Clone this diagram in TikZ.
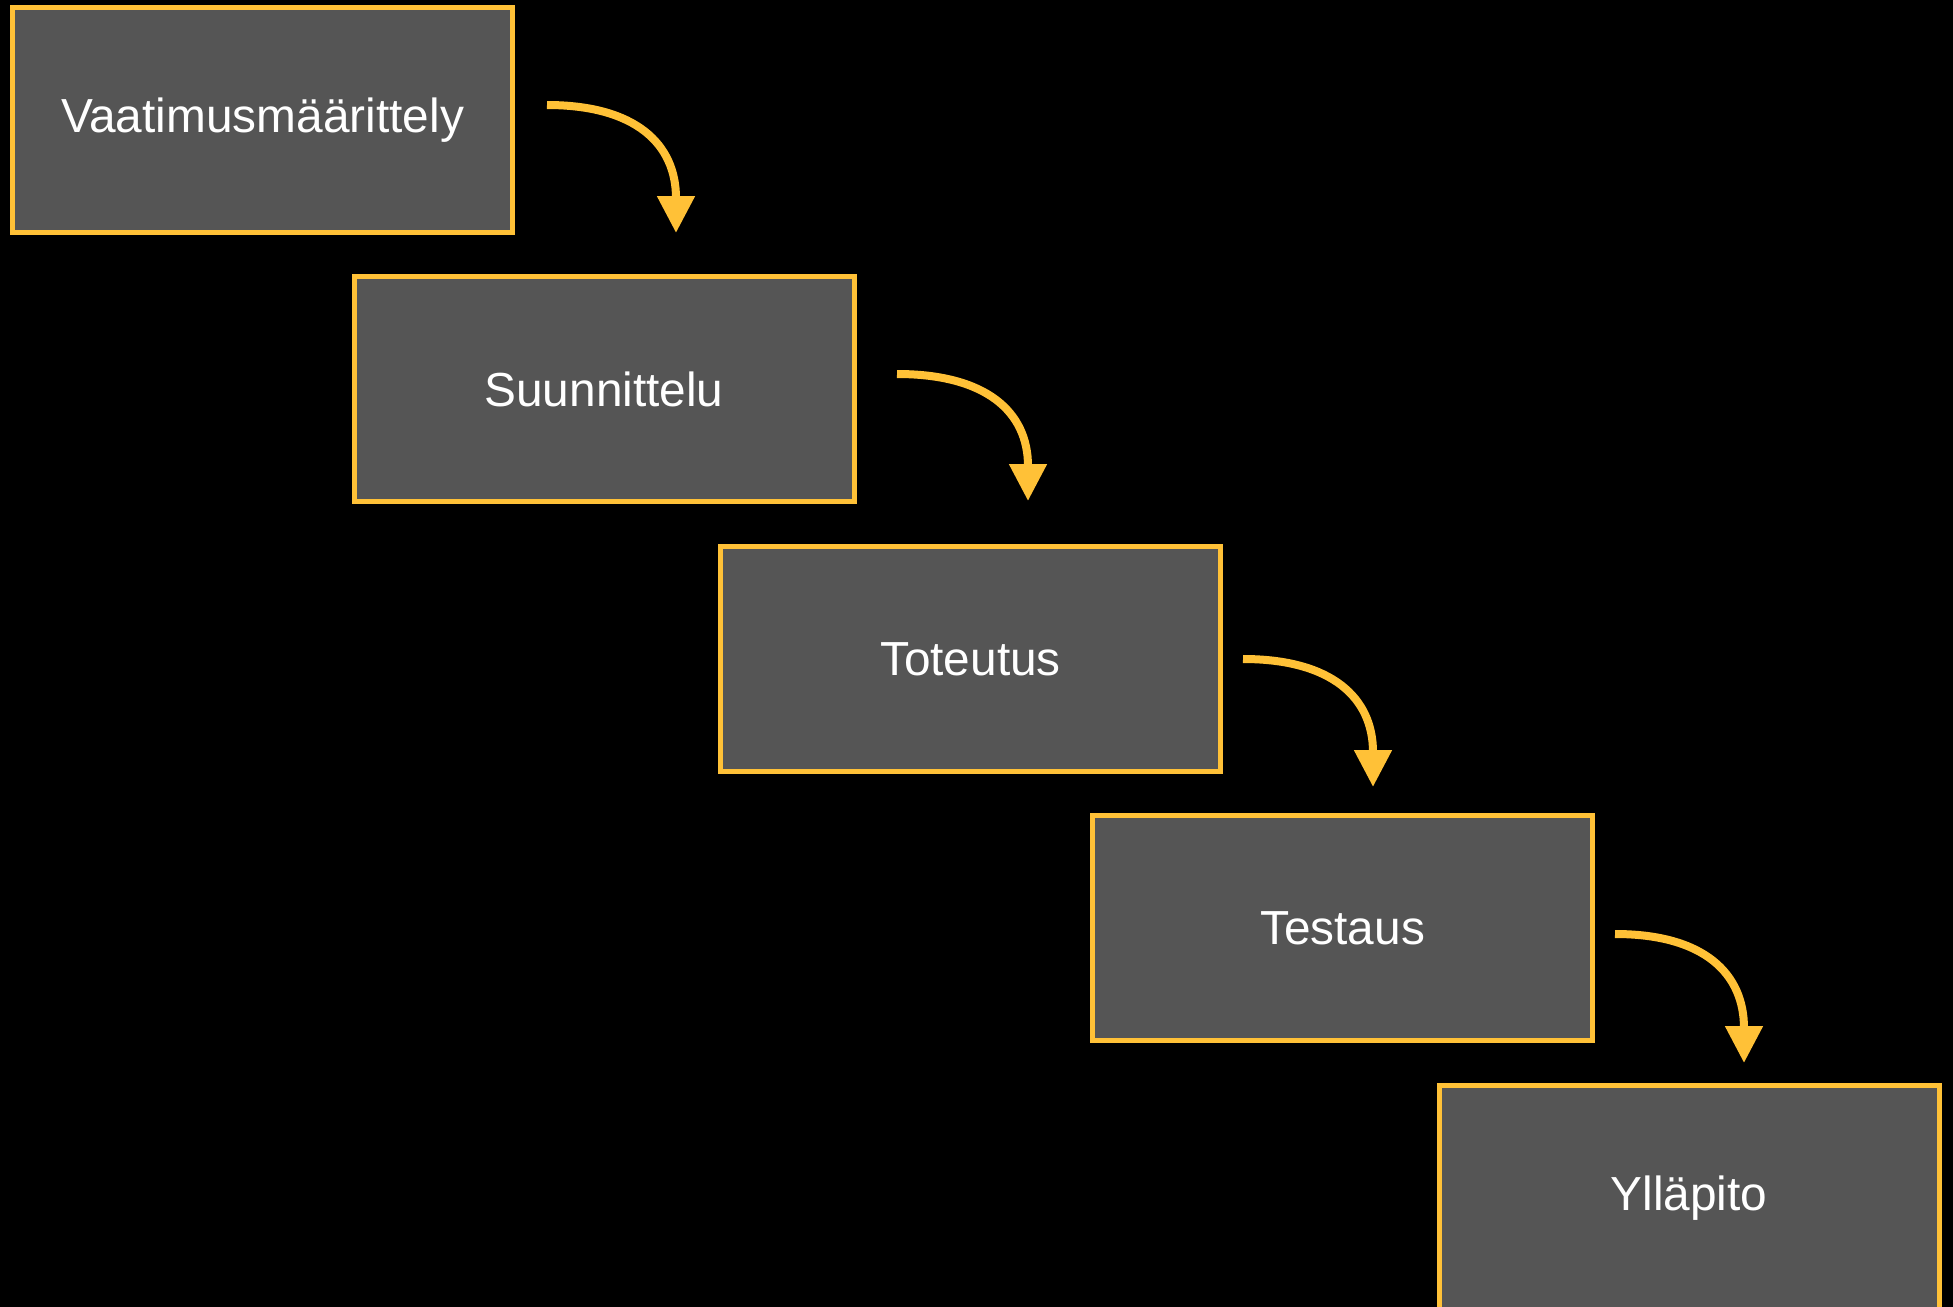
\documentclass[tikz,border=0pt]{standalone}
\usepackage{fontspec}
\setmainfont{Liberation Sans}
\usepackage{tikz}
\usetikzlibrary{arrows.meta, positioning}
\definecolor{mygold}{RGB}{255, 193, 55}
\definecolor{mygray}{RGB}{85, 85, 85}

\begin{document}
\begin{tikzpicture}[
    phase/.style={rectangle, draw=mygold, fill=mygray, line width=0.05cm, minimum width=5cm, minimum height=2.25cm, text=white, font=\fontsize{13.6}{16}\selectfont},
    flow/.style={-{Triangle[width=0.36cm, length=0.37cm]}, mygold, line width=0.08cm}
]
    % tausta
    \fill[black] (0,0) rectangle (19.53,-13.07);
    \useasboundingbox (0,0) rectangle (19.53,-13.07);

    % vaiheet
    \node[phase] (req) at (2.625, -1.20) {Vaatimusmäärittely};
    \node[phase] (des) at (6.04, -3.89) {Suunnittelu};
    \node[phase] (impl) at (9.705, -6.59) {Toteutus};
    \node[phase] (test) at (13.425, -9.28) {Testaus};
    \node[phase] (maint) at (16.89, -11.98) {Ylläpito};

    % nuolet
    \coordinate (a1) at (5.47, -1.05);
    \coordinate (t1) at (6.76, -2.33);
    \coordinate (a2) at (8.97, -3.74);
    \coordinate (t2) at (10.28, -5.01);
    \coordinate (a3) at (12.43, -6.59);
    \coordinate (t3) at (13.73, -7.87);
    \coordinate (a4) at (16.15, -9.34);
    \coordinate (t4) at (17.44, -10.63);
    \draw[flow] (a1) to[out=0, in=90, looseness=1.25] (t1);
    \draw[flow] (a2) to[out=0, in=90, looseness=1.25] (t2);
    \draw[flow] (a3) to[out=0, in=90, looseness=1.25] (t3);
    \draw[flow] (a4) to[out=0, in=90, looseness=1.25] (t4);
\end{tikzpicture}
\end{document}
